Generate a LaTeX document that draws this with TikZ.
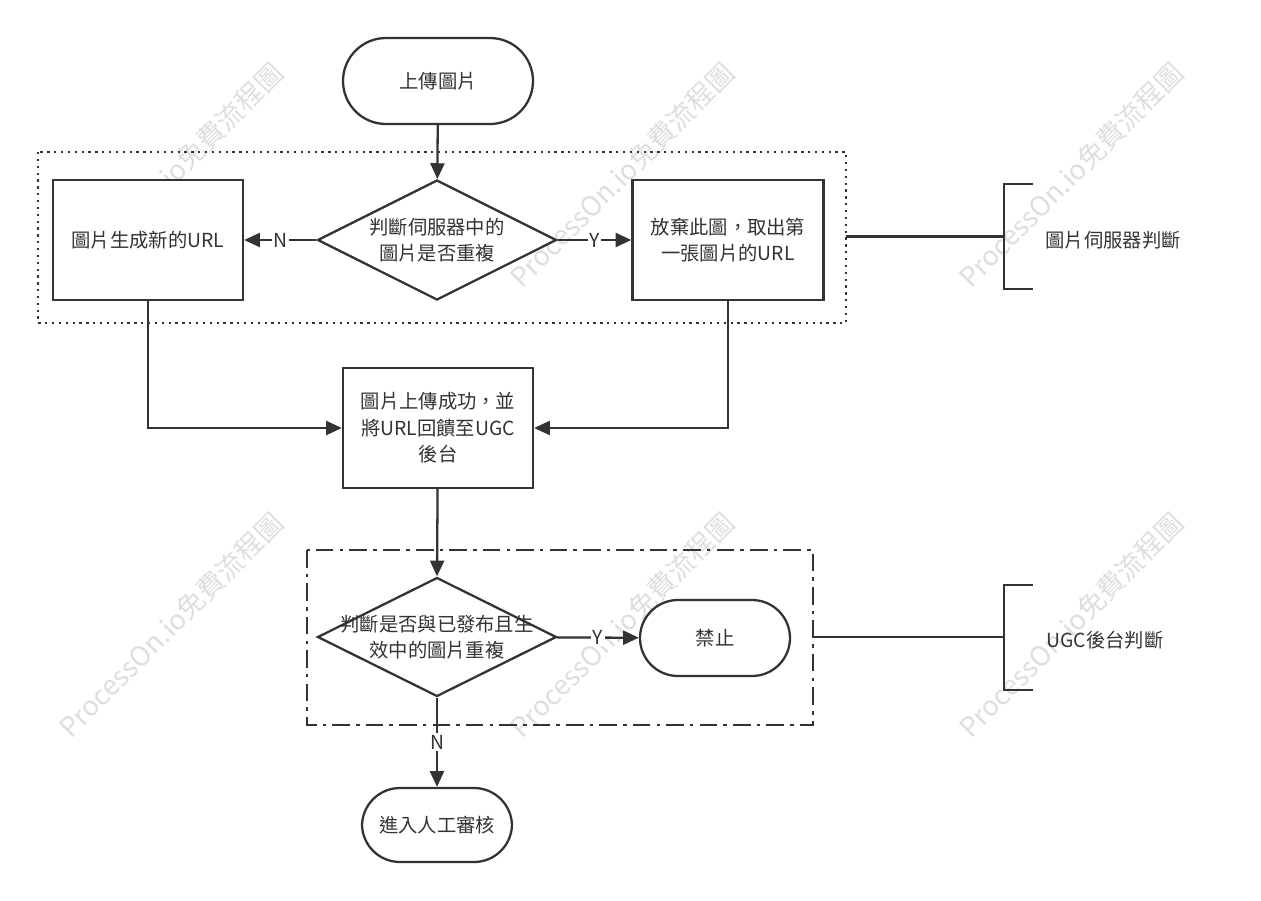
\documentclass[tikz,border=0pt]{standalone}
\usepackage{fontspec}
\setmainfont{Noto Sans CJK TC}
\usepackage{tikz}
\usetikzlibrary{arrows.meta,shapes.geometric}

\definecolor{lineclr}{HTML}{333333}
\definecolor{markclr}{HTML}{DEDEDE}

\begin{document}
\begin{tikzpicture}[
  color=lineclr, line width=1.3pt,
  every node/.style={font=\fontsize{11}{15}\selectfont, text=lineclr},
  box/.style={draw, rectangle, fill=white, minimum width=3.8cm, minimum height=2.4cm, align=center},
  term/.style={draw, rectangle, rounded corners=0.76cm, fill=white, minimum width=3cm, minimum height=1.52cm, align=center},
  dia/.style={draw, diamond, fill=white, minimum width=4.78cm, minimum height=2.4cm, inner sep=0pt, aspect=2},
  lbl/.style={fill=white, inner sep=1pt},
  arr/.style={-{Triangle[length=9pt,width=8pt]}},
  wmark/.style={rotate=45, text=markclr, font=\fontsize{15.5}{17}\selectfont}
]
\useasboundingbox (0,0) rectangle (25.22,-18);

% watermarks
\foreach \wx/\wy [count=\i] in {3.42/-3.5, 12.44/-3.5, 21.42/-3.5, 3.42/-12.5, 12.44/-12.5, 21.42/-12.5} {
  \node[wmark] (wm\i) at (\wx,\wy) {ProcessOn.io免費流程圖};
}

% group frames
\draw[dash pattern=on 1.3pt off 2.6pt] (0.76,-3.04) rectangle (16.92,-6.46);
\draw[dash pattern=on 10pt off 3.5pt on 2pt off 3.5pt] (6.14,-11.0) rectangle (16.26,-14.5);

% steps
\node[term, minimum width=3.8cm, minimum height=1.72cm, rounded corners=0.86cm] (start) at (8.76,-1.62) {上傳圖片};
\node[dia, label={[align=center]center:判斷伺服器中的\\圖片是否重複}] (chk1) at (8.74,-4.8) {};
\node[box] (newurl) at (2.96,-4.8) {圖片生成新的URL};
\node[box, minimum width=3.82cm] (drop) at (14.56,-4.8) {放棄此圖，取出第\\一張圖片的URL};
\node[box] (done) at (8.76,-8.56) {圖片上傳成功，並\\將URL回饋至UGC\\後台};
\node[dia, minimum height=2.38cm, label={[align=center]center:判斷是否與已發布且生\\效中的圖片重複}] (chk2) at (8.74,-12.74) {};
\node[term] (stop) at (14.3,-12.76) {禁止};
\node[term, minimum height=1.48cm] (review) at (8.74,-16.5) {進入人工審核};

% connectors
\draw[arr] (start) -- (chk1);
\draw[arr] (chk1) -- node[lbl] {N} (newurl);
\draw[arr] (chk1) -- node[lbl] {Y} (drop);
\draw[arr] (newurl.south) |- (done.west);
\draw[arr] (drop.south) |- (done.east);
\draw[arr] (done) -- (chk2.north);
\draw[arr] (chk2) -- node[lbl] {Y} (stop);
\draw[arr] (chk2.south) -- node[lbl] {N} (review);

% side notes
\coordinate (br1) at (20.08,-4.73);
\coordinate (br2) at (20.08,-12.74);
\draw (16.92,-4.73) -- (br1);
\draw (16.26,-12.74) -- (br2);
\draw (20.66,-3.68) -- (20.08,-3.68) -- (20.08,-5.78) -- (20.66,-5.78);
\draw (20.66,-11.7) -- (20.08,-11.7) -- (20.08,-13.8) -- (20.66,-13.8);
\node (note1) at (22.26,-4.8) {圖片伺服器判斷};
\node (note2) at (22.1,-12.8) {UGC後台判斷};
\end{tikzpicture}
\end{document}
